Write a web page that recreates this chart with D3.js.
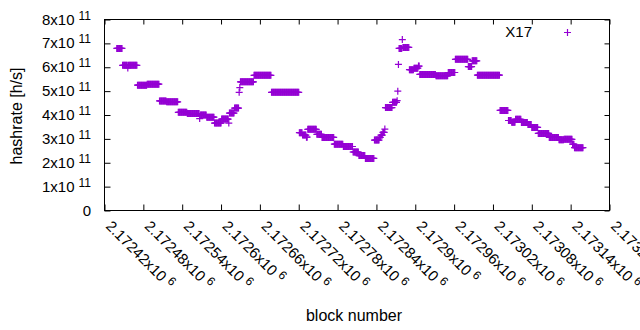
<!DOCTYPE html>
<html>
<head>
<meta charset="utf-8">
<script src="https://cdn.jsdelivr.net/npm/d3@7"></script>
<style>
  body { margin: 0; background: #fff; }
  text { font-family: "Liberation Sans", Arial, sans-serif; fill: #000; }
</style>
</head>
<body>
<div id="chart"></div>
<script>
/* Runs of blocks with the same hashrate. */
const runFirstBlock = [
  2172439, 2172448, 2172456, 2172457, 2172471, 2172486, 2172505, 2172516, 2172534, 2172548,
  2172567, 2172568, 2172578, 2172590, 2172601, 2172612, 2172613, 2172621, 2172628, 2172629,
  2172630, 2172651, 2172678, 2172721, 2172726, 2172732, 2172734, 2172748, 2172756, 2172775,
  2172789, 2172804, 2172813, 2172823, 2172837, 2172845, 2172847, 2172850, 2172853, 2172854,
  2172865, 2172872, 2172873, 2172874, 2172875, 2172880, 2172881, 2172891, 2172898, 2172905,
  2172907, 2172932, 2172951, 2172962, 2172982, 2172988, 2172996, 2173031, 2173044, 2173049,
  2173055, 2173064, 2173074, 2173080, 2173090, 2173107, 2173122, 2173130, 2173143, 2173146
]
const runLastBlock = [
  2172447, 2172455, 2172456, 2172470, 2172485, 2172504, 2172515, 2172533, 2172547, 2172566,
  2172567, 2172577, 2172589, 2172600, 2172611, 2172612, 2172620, 2172627, 2172628, 2172629,
  2172650, 2172677, 2172720, 2172725, 2172731, 2172733, 2172747, 2172755, 2172774, 2172788,
  2172803, 2172812, 2172822, 2172836, 2172844, 2172846, 2172849, 2172852, 2172853, 2172864,
  2172871, 2172872, 2172873, 2172874, 2172879, 2172880, 2172890, 2172897, 2172904, 2172906,
  2172931, 2172950, 2172961, 2172981, 2172987, 2172995, 2173030, 2173043, 2173048, 2173054,
  2173063, 2173073, 2173079, 2173089, 2173106, 2173121, 2173129, 2173142, 2173145, 2173159
]
const runHashrate = [
  6.79e11, 6.08e11, 5.97e11, 6.08e11, 5.25e11, 5.29e11, 4.59e11, 4.55e11, 4.11e11, 4.06e11,
  3.85e11, 4.00e11, 3.91e11, 3.66e11, 3.83e11, 3.66e11, 4.08e11, 4.29e11, 4.95e11, 5.15e11,
  5.39e11, 5.66e11, 4.95e11, 3.26e11, 3.16e11, 3.07e11, 3.40e11, 3.19e11, 3.06e11, 2.78e11,
  2.68e11, 2.45e11, 2.30e11, 2.18e11, 2.95e11, 3.06e11, 3.16e11, 3.27e11, 3.41e11, 4.31e11,
  4.53e11, 4.60e11, 5.00e11, 6.12e11, 6.79e11, 7.16e11, 6.83e11, 5.90e11, 5.96e11, 6.05e11,
  5.70e11, 5.64e11, 5.78e11, 6.33e11, 6.03e11, 6.27e11, 5.67e11, 4.19e11, 3.77e11, 3.70e11,
  3.82e11, 3.69e11, 3.60e11, 3.48e11, 3.23e11, 3.06e11, 2.96e11, 2.98e11, 2.78e11, 2.63e11
]

/* Ticks and labels. */
const xTicks = [
  2172420, 2172480, 2172540, 2172600, 2172660, 2172720, 2172780,
  2172840, 2172900, 2172960, 2173020, 2173080, 2173140, 2173200
]
const yTicks = [0, 1e11, 2e11, 3e11, 4e11, 5e11, 6e11, 7e11, 8e11]
const seriesName = "X17"
const xTitle = "block number"
const yTitle = "hashrate [h/s]"

/* Define svg-size. */
const width = 640
const height = 330
const color = "#9400d3"

const svg = d3.select("#chart")
  .append("svg")
  .attr("width", width)
  .attr("height", height)

/* Scales, the plot box runs from the first to the last tick. */
const x = d3.scaleLinear()
  .domain([xTicks[0], xTicks[xTicks.length - 1]])
  .range([104.5, 609.5])

const y = d3.scaleLinear()
  .domain([yTicks[0], yTicks[yTicks.length - 1]])
  .range([210.5, 19.5])

/* One point per block of every run. */
const points = []
runFirstBlock.forEach((first, i) => {
  for (let b = first; b <= runLastBlock[i]; b++) {
    points.push({ block: b, hashrate: runHashrate[i] })
  }
})

/* Axes with inward ticks, mirrored on top and right. */
svg.append("g")
  .attr("transform", `translate(0, ${y.range()[0]})`)
  .call(d3.axisBottom(x).tickValues(xTicks).tickSizeInner(-6).tickSizeOuter(0).tickFormat(""))
svg.append("g")
  .attr("transform", `translate(0, ${y.range()[1]})`)
  .call(d3.axisTop(x).tickValues(xTicks).tickSizeInner(-5).tickSizeOuter(0).tickFormat(""))
svg.append("g")
  .attr("transform", `translate(${x.range()[0]}, 0)`)
  .call(d3.axisLeft(y).tickValues(yTicks).tickSizeInner(-6).tickSizeOuter(0).tickFormat(""))
svg.append("g")
  .attr("transform", `translate(${x.range()[1]}, 0)`)
  .call(d3.axisRight(y).tickValues(yTicks).tickSizeInner(-5).tickSizeOuter(0).tickFormat(""))

svg.selectAll(".domain").remove()
svg.selectAll(".tick line").attr("stroke", "#000")

/* Plot border. */
svg.append("rect")
  .attr("x", x.range()[0])
  .attr("y", y.range()[1])
  .attr("width", x.range()[1] - x.range()[0])
  .attr("height", y.range()[0] - y.range()[1])
  .attr("fill", "none")
  .attr("stroke", "#000")

/* Y tick labels like 8x10^11. */
const yLabels = svg.append("g")
  .selectAll("text")
  .data(yTicks)
  .enter()
  .append("text")
  .attr("x", 91)
  .attr("y", d => y(d) + 5)
  .attr("text-anchor", "end")
  .attr("font-size", 15)

yLabels.filter(d => d === 0).text("0")
yLabels.filter(d => d !== 0)
  .append("tspan")
  .text(d => `${d / 1e11}x10`)
yLabels.filter(d => d !== 0)
  .append("tspan")
  .attr("dx", 4)
  .attr("dy", -5)
  .attr("font-size", 12)
  .text("11")

/* Rotated x tick labels like 2.17242x10^6 (the last one runs off the edge, as in the original). */
const xLabels = svg.append("g")
  .selectAll("text")
  .data(xTicks)
  .enter()
  .append("text")
  .attr("transform", d => `translate(${x(d) + 0.5}, 227) rotate(45)`)
  .attr("font-size", 15)

xLabels.append("tspan")
  .text(d => `${+(d / 1e6).toPrecision(6)}x10`)
xLabels.append("tspan")
  .attr("dx", 4)
  .attr("dy", -5)
  .attr("font-size", 12)
  .text("6")

/* Axis titles. */
svg.append("text")
  .attr("x", 354)
  .attr("y", 321)
  .attr("text-anchor", "middle")
  .attr("font-size", 16)
  .text(xTitle)

svg.append("text")
  .attr("transform", "translate(22, 116) rotate(-90)")
  .attr("text-anchor", "middle")
  .attr("font-size", 16)
  .text(yTitle)

/* Draw the points as plus signs. */
const plus = "M-3.5,0H3.5M0,-3.5V3.5"

svg.append("g")
  .selectAll("path")
  .data(points)
  .enter()
  .append("path")
  .attr("d", plus)
  .attr("transform", d => `translate(${x(d.block)}, ${y(d.hashrate)})`)
  .attr("fill", "none")
  .attr("stroke", color)
  .attr("stroke-width", 1.2)

/* Legend. */
svg.append("text")
  .attr("x", 532)
  .attr("y", 37)
  .attr("text-anchor", "end")
  .attr("font-size", 15)
  .text(seriesName)

svg.append("path")
  .attr("d", plus)
  .attr("transform", "translate(567.5, 32.5)")
  .attr("fill", "none")
  .attr("stroke", color)
  .attr("stroke-width", 1.2)
</script>
</body>
</html>
